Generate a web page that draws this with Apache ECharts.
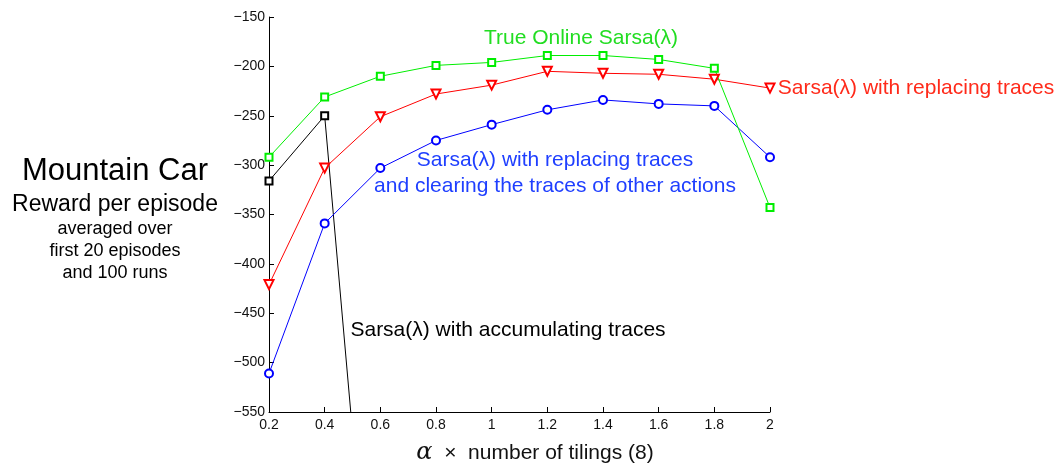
<!DOCTYPE html>
<html lang="en">
<head>
  <meta charset="UTF-8">
  <title>Mountain Car</title>
  <style>
    html, body { margin: 0; padding: 0; background: #fff; }
    #chart { width: 1060px; height: 466px; }
  </style>
</head>
<body>
<div id="chart"></div>
<script src="https://cdn.jsdelivr.net/npm/echarts@6/dist/echarts.min.js"></script>
<script>
  // alpha x number of tilings
  const alphas = [0.2, 0.4, 0.6, 0.8, 1.0, 1.2, 1.4, 1.6, 1.8, 2.0];
  const trueOnline = [-292, -231, -210, -199, -196, -189, -189, -193, -202, -343];
  const replacing = [-421, -303, -251, -228, -219, -205, -207, -208, -213, -222];
  const replacingClearing = [-511, -359, -303, -275, -259, -244, -234, -238, -240, -292];
  // accumulating traces diverge after 0.4 (goes off the bottom)
  const accAlphas = [0.2, 0.4, 0.6];
  const accumulating = [-316, -250, -890];

  const font = 'Liberation Sans, Arial, Helvetica, sans-serif';

  function pairs(xs, ys) {
    return xs.map((x, i) => [x, ys[i]]);
  }

  function lineSeries(name, xs, ys, color, symbol, size, rotate) {
    return {
      name: name,
      type: 'line',
      data: pairs(xs, ys),
      symbol: symbol,
      symbolSize: size,
      symbolRotate: rotate || 0,
      showAllSymbol: true,
      clip: true,
      lineStyle: { color: color, width: 1 },
      itemStyle: { color: color, borderWidth: 1 },
      emphasis: { disabled: true }
    };
  }

  // centred text drawn at a point
  function label(x, y, text, size, color) {
    return {
      type: 'text', x: x, y: y,
      style: { text: text, font: size + 'px ' + font, fill: color, align: 'center', verticalAlign: 'middle' }
    };
  }

  let myChart = echarts.init(document.getElementById('chart'));
  let option = {
    animation: false,
    grid: { left: 269, right: 290, top: 17, bottom: 54 },
    xAxis: {
      type: 'value',
      min: 0.2,
      max: 2,
      interval: 0.2,
      axisLine: { lineStyle: { color: '#000', width: 1 } },
      axisTick: { inside: true, length: 5, lineStyle: { color: '#000' } },
      splitLine: { show: false },
      axisLabel: {
        color: '#111', fontSize: 14, fontFamily: font, margin: 6,
        formatter: v => String(+v.toFixed(1))
      }
    },
    yAxis: {
      type: 'value',
      min: -550,
      max: -150,
      interval: 50,
      axisLine: { show: true, lineStyle: { color: '#000', width: 1 } },
      axisTick: { show: true, inside: true, length: 5, lineStyle: { color: '#000' } },
      splitLine: { show: false },
      axisLabel: {
        color: '#111', fontSize: 14, fontFamily: font, margin: 4,
        formatter: v => String(v).replace('-', '\u2212')
      }
    },
    series: [
      lineSeries('accumulating', accAlphas, accumulating, '#000000', 'emptyRect', 7),
      lineSeries('replacing, clearing', alphas, replacingClearing, '#0000ff', 'emptyCircle', 8),
      lineSeries('replacing', alphas, replacing, '#ff0000', 'emptyTriangle', 9, 180),
      lineSeries('true online', alphas, trueOnline, '#00ee00', 'emptyRect', 7)
    ],
    graphic: [
      // left side labels
      label(115, 171, 'Mountain Car', 31, '#000'),
      label(115, 205, 'Reward per episode', 23, '#000'),
      label(115, 229, 'averaged over', 18, '#000'),
      label(115, 251, 'first 20 episodes', 18, '#000'),
      label(115, 273, 'and 100 runs', 18, '#000'),
      // series annotations
      label(581, 38, 'True Online Sarsa(λ)', 21, '#22dd22'),
      label(916, 88, 'Sarsa(λ) with replacing traces', 21, '#ff2a1a'),
      label(555, 160, 'Sarsa(λ) with replacing traces', 21, '#1f3fff'),
      label(555, 186, 'and clearing the traces of other actions', 21, '#1f3fff'),
      label(508, 330, 'Sarsa(λ) with accumulating traces', 21, '#000'),
      // x axis title
      {
        type: 'text', x: 535, y: 453,
        style: {
          text: '{a|α}  ×  number of tilings (8)',
          font: '21px ' + font,
          fill: '#111',
          align: 'center',
          verticalAlign: 'middle',
          rich: {
            a: { fontFamily: 'DejaVu Serif', fontStyle: 'italic', fontSize: 24, fill: '#111' }
          }
        }
      }
    ]
  };
  myChart.setOption(option);
</script>
</body>
</html>
